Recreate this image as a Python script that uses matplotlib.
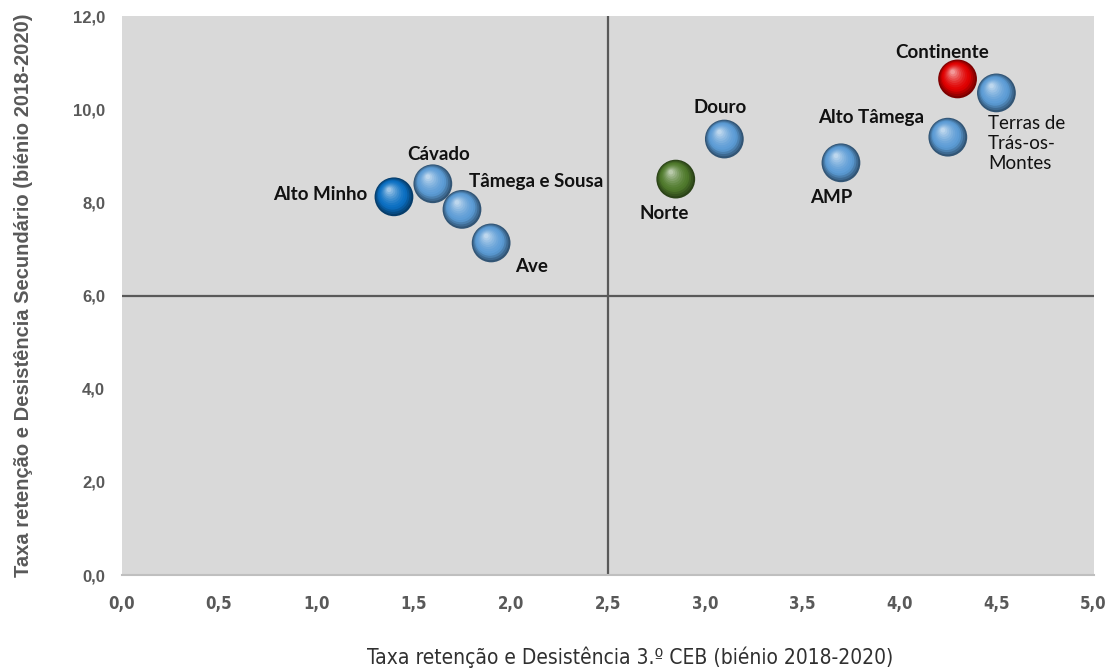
import matplotlib
matplotlib.use("Agg")
from matplotlib import pyplot as plt
from matplotlib import transforms
from matplotlib.colors import to_rgb
import numpy as np

# dados
regioes = ["Alto Minho", "Cávado", "Tâmega e Sousa", "Ave", "Norte", "Douro",
           "AMP", "Alto Tâmega", "Continente", "Terras de\nTrás-os-\nMontes"]
taxa_3ceb = [1.40, 1.60, 1.75, 1.90, 2.85, 3.10, 3.70, 4.25, 4.30, 4.50]
taxa_sec = [8.12, 8.40, 7.85, 7.13, 8.50, 9.36, 8.85, 9.40, 10.65, 10.35]
cores = ["#0a6fc2", "#5b9bd5", "#5b9bd5", "#5b9bd5", "#4f7a2c", "#5b9bd5",
         "#5b9bd5", "#5b9bd5", "#e00000", "#5b9bd5"]
x_ticks = np.arange(0, 5.01, 0.5)
y_ticks = np.arange(0, 12.01, 2)

# posicao dos rotulos (offset em pontos, alinhamento)
rot_pos = [(-19, 2, "right", "center"), (4, 21, "center", "center"),
           (5, 20, "left", "center"), (17, -17, "left", "center"),
           (-8, -25, "center", "center"), (-3, 23, "center", "center"),
           (-7, -25, "center", "center"), (-17, 14, "right", "center"),
           (-11, 19, "center", "center"), (-6, -16, "left", "top")]

fig = plt.figure(figsize=(11.08, 6.68), dpi=100)
ax = fig.add_axes([0.110, 0.139, 0.877, 0.837])
ax.set_facecolor("#d9d9d9")
ax.set_xlim(0, 5)
ax.set_ylim(0, 12)

# linhas de cruzamento
ax.axhline(6, color="#595959", lw=1.6, zorder=1)
ax.axvline(2.5, color="#595959", lw=1.6, zorder=1)

for s in ["top", "right", "left"]:
    ax.spines[s].set_visible(False)
ax.spines["bottom"].set_color("#bfbfbf")
ax.spines["bottom"].set_linewidth(1.5)

# esferas: varias camadas cada vez mais claras
n = 12
for i in range(n):
    f = i / (n - 1)
    sz = 780 * (1 - 0.88 * f) ** 2
    dx = -3.5 * f
    dy = 5.0 * f
    tr = transforms.offset_copy(ax.transData, fig=fig, x=dx, y=dy, units="points")
    cols = []
    for c in cores:
        r = np.array(to_rgb(c))
        dark = r * 0.55
        light = r + (1 - r) * 0.6
        if f < 0.3:
            t = f / 0.3
            cols.append(dark * (1 - t) + r * t)
        else:
            t = (f - 0.3) / 0.7
            cols.append(r * (1 - t ** 1.5) + light * t ** 1.5)
    ax.scatter(taxa_3ceb, taxa_sec, s=sz, c=cols, transform=tr, zorder=3 + i,
               linewidths=0)

# rotulos
for nome, x, y, (ox, oy, ha, va) in zip(regioes, taxa_3ceb, taxa_sec, rot_pos):
    peso = "normal" if "Terras" in nome else "bold"
    ax.annotate(nome, (x, y), xytext=(ox, oy), textcoords="offset points",
                ha=ha, va=va, fontsize=13.5, fontweight=peso, color="#111111",
                family=["Lato", "DejaVu Sans"], linespacing=1.2, zorder=20)

ax.set_xticks(x_ticks)
ax.set_xticklabels([f"{v:.1f}".replace(".", ",") for v in x_ticks],
                   family=["DejaVu Sans"], fontstretch="condensed",
                   fontweight="bold", fontsize=12, color="#595959")
ax.set_yticks(y_ticks)
ax.set_yticklabels([f"{v:.1f}".replace(".", ",") for v in y_ticks],
                   family=["Liberation Sans", "DejaVu Sans"],
                   fontweight="bold", fontsize=12, color="#595959")
ax.tick_params(axis="x", length=0, pad=14)
ax.tick_params(axis="y", length=0, pad=12)

ax.set_ylabel("Taxa retenção e Desistência Secundário (biénio 2018-2020)",
              family=["Liberation Sans", "DejaVu Sans"], fontweight="bold",
              fontsize=14.5, color="#595959", labelpad=29)
fig.text(630 / 1108, 1 - 657 / 668,
         "Taxa retenção e Desistência 3.º CEB (biénio 2018-2020)",
         family=["DejaVu Sans"], fontstretch="condensed",
         fontsize=15, color="#303030", ha="center", va="center")

fig.savefig("out.png", dpi=100)
